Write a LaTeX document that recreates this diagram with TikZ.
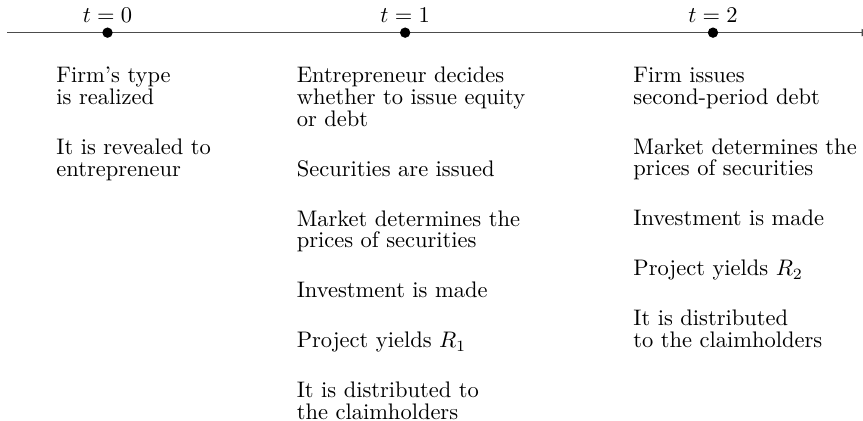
\documentclass[tikz,border=0pt]{standalone}
\usepackage{amsmath}
\usepackage{tikz}
\usetikzlibrary{arrows,positioning}

\newcommand{\gap}{12.6pt}

\begin{document}
\begin{tikzpicture}[
    dot/.style={circle, fill=black, inner sep=0pt, minimum size=4.6pt},
    date/.style={inner sep=0pt},
    events/.style={align=left, anchor=north west, inner sep=0pt,
                   font=\fontsize{10pt}{9.64pt}\selectfont}]
    \useasboundingbox (0,0) rectangle (13.484,-6.576);

    % time axis
    \coordinate (axis_start) at (0.11,-0.51);
    \coordinate (axis_end) at (13.62,-0.51);
    \draw[-latex, black!70, line width=0.55pt] (axis_start) -- (axis_end);

    % dates
    \node[dot] (t0) at (1.68,-0.51) {};
    \node[dot] (t1) at (6.33,-0.51) {};
    \node[dot] (t2) at (11.14,-0.51) {};
    \node[date, above=1.8pt of t0] (date0) {$t=0$};
    \node[date, above=1.8pt of t1] (date1) {$t=1$};
    \node[date, above=1.8pt of t2] (date2) {$t=2$};

    % what happens at each date
    \node[events] (period0) at (0.875,-1.04) {Firm's type\\is realized\\[\gap]
        It is revealed to\\entrepreneur};
    \node[events] (period1) at (4.63,-1.04) {Entrepreneur decides\\whether to issue equity\\or debt\\[\gap]
        Securities are issued\\[\gap]
        Market determines the\\prices of securities\\[\gap]
        Investment is made\\[\gap]
        Project yields $R_1$\\[\gap]
        It is distributed to\\the claimholders};
    \node[events] (period2) at (9.89,-1.04) {Firm issues\\second-period debt\\[\gap]
        Market determines the\\prices of securities\\[\gap]
        Investment is made\\[\gap]
        Project yields $R_2$\\[\gap]
        It is distributed\\to the claimholders};
\end{tikzpicture}
\end{document}
